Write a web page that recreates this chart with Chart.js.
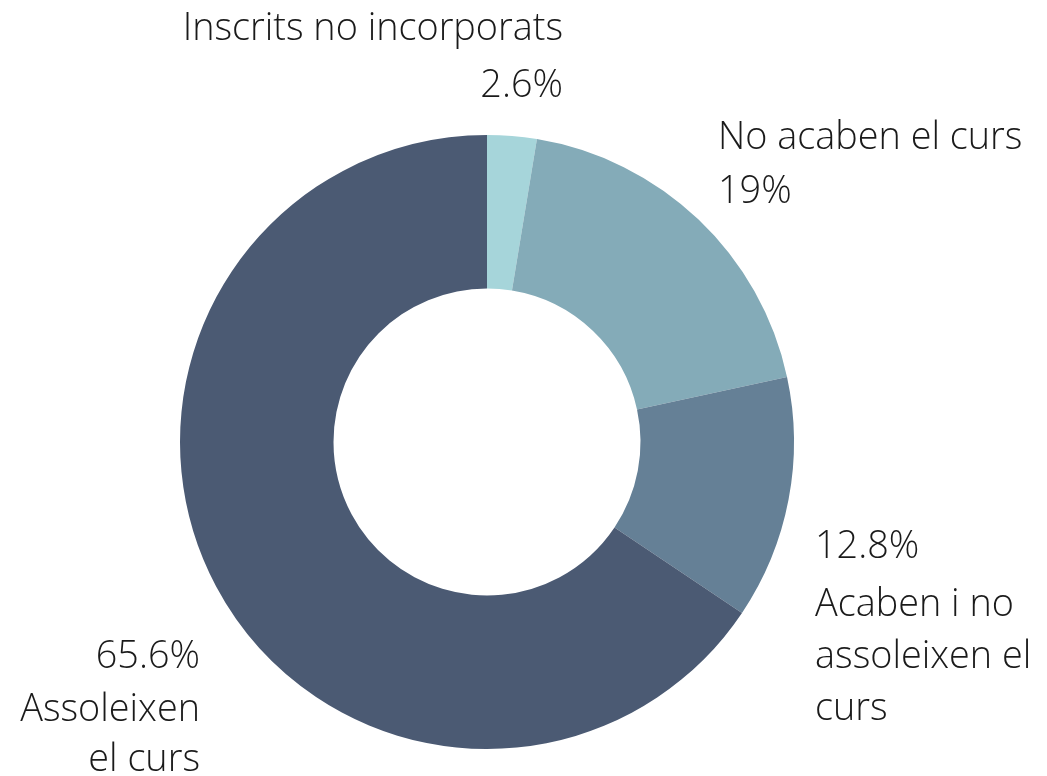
<!DOCTYPE html>
<html><head><meta charset="utf-8">
<script src="https://cdn.jsdelivr.net/npm/chart.js@4"></script>
<style>html,body{margin:0;padding:0;background:#fff}#wrap{width:1047px;height:776px;position:relative}</style>
</head><body><div id="wrap"><canvas id="c" width="1047" height="776"></canvas></div>
<script>
const categories = ["Inscrits no incorporats", "No acaben el curs", "Acaben i no assoleixen el curs", "Assoleixen el curs"];
const values = [2.6, 19, 12.8, 65.6];
const valueLabels = ["2.6%", "19%", "12.8%", "65.6%"];
const colors = ["#a6d5da", "#84abb8", "#658096", "#4b5a73"];

const labelPlugin = {
  id: 'labels',
  afterDraw(chart) {
    const ctx = chart.ctx;
    ctx.save();
    ctx.font = '300 37.8px "Open Sans"';
    ctx.fillStyle = '#1a1a1a';
    ctx.textBaseline = 'alphabetic';
    const blocks = [
      {x: 563, ys: [40, 97], align: 'right', lines: [categories[0], valueLabels[0]]},
      {x: 718, ys: [149, 203], align: 'left', lines: [categories[1], valueLabels[1]]},
      {x: 815, ys: [558, 616, 668, 720], align: 'left', lines: [valueLabels[2], 'Acaben i no', 'assoleixen el', 'curs']},
      {x: 200, ys: [668, 721, 771], align: 'right', lines: [valueLabels[3], 'Assoleixen', 'el curs']}
    ];
    blocks.forEach(b => {
      ctx.textAlign = b.align;
      b.lines.forEach((l, i) => ctx.fillText(l, b.x, b.ys[i]));
    });
    ctx.restore();
  }
};

new Chart(document.getElementById('c'), {
  type: 'doughnut',
  data: { labels: categories, datasets: [{ data: values, backgroundColor: colors, borderWidth: 0 }] },
  options: {
    responsive: false, animation: false, cutout: '50%',
    layout: { padding: { left: 180, right: 253, top: 135, bottom: 27 } },
    plugins: { legend: { display: false }, tooltip: { enabled: false } }
  },
  plugins: [labelPlugin]
});
</script></body></html>
